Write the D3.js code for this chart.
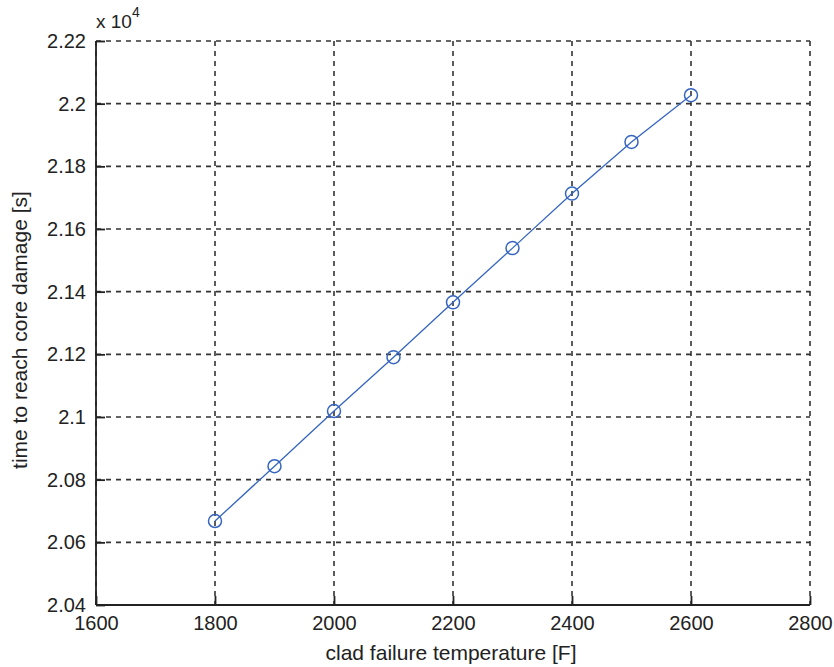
<!DOCTYPE html>
<html>
<head>
<meta charset="utf-8">
<script src="https://cdn.jsdelivr.net/npm/d3@7"></script>
<style>
  body { margin: 0; background: #fff; }
  text { font-family: "Liberation Sans", Arial, sans-serif; fill: #222; }
</style>
</head>
<body>
<script>
// clad failure temperature [F]
const temps = [1800, 1900, 2000, 2100, 2200, 2300, 2400, 2500, 2600];
// time to reach core damage [s]
const times = [20668, 20843, 21019, 21191, 21366, 21539, 21713, 21878, 22027];
const xTicks = [1600, 1800, 2000, 2200, 2400, 2600, 2800];
const yTicks = [2.04, 2.06, 2.08, 2.1, 2.12, 2.14, 2.16, 2.18, 2.2, 2.22];

const width = 834, height = 667;
const margin = {top: 41, right: 24, bottom: 62, left: 96};

const svg = d3.select("body").append("svg")
    .attr("width", width)
    .attr("height", height);

const xscale = d3.scaleLinear()
    .domain([1600, 2800])
    .range([margin.left, width - margin.right]);

const yscale = d3.scaleLinear()
    .domain([2.04, 2.22])
    .range([height - margin.bottom, margin.top]);

// grid
svg.append("g").selectAll("line")
    .data(xTicks)
    .enter().append("line")
    .attr("x1", d => xscale(d)).attr("x2", d => xscale(d))
    .attr("y1", margin.top).attr("y2", height - margin.bottom)
    .attr("stroke", "#333").attr("stroke-width", 1.6)
    .attr("stroke-dasharray", "5,5");

svg.append("g").selectAll("line")
    .data(yTicks)
    .enter().append("line")
    .attr("y1", d => yscale(d)).attr("y2", d => yscale(d))
    .attr("x1", margin.left).attr("x2", width - margin.right)
    .attr("stroke", "#333").attr("stroke-width", 1.6)
    .attr("stroke-dasharray", "5,5");

// axes
const xaxis = d3.axisBottom(xscale).tickValues(xTicks).tickSize(-9).tickPadding(11)
    .tickFormat(d3.format("d"));
const yaxis = d3.axisLeft(yscale).tickValues(yTicks).tickSize(-9).tickPadding(10)
    .tickFormat(d => +d.toFixed(2) + "");

const gx = svg.append("g")
    .attr("transform", `translate(0, ${height - margin.bottom})`)
    .call(xaxis);
const gy = svg.append("g")
    .attr("transform", `translate(${margin.left}, 0)`)
    .call(yaxis);

[gx, gy].forEach(g => {
    g.select(".domain").attr("stroke", "#222").attr("stroke-width", 1.8);
    g.selectAll(".tick line").attr("stroke", "#222").attr("stroke-width", 1.8);
    g.selectAll("text").style("font-size", "20px").attr("fill", "#222");
});
gx.select(".domain").attr("d", `M${margin.left},0H${width - margin.right}`);
gy.select(".domain").attr("d", `M0,${height - margin.bottom}V${margin.top}`);

// exponent label
const expo = svg.append("text")
    .attr("x", margin.left)
    .attr("y", 28)
    .style("font-size", "19px");
expo.append("tspan").text("x 10");
expo.append("tspan").attr("dy", -11).style("font-size", "14px").text("4");

// axis titles
svg.append("text")
    .attr("x", 451)
    .attr("y", 660)
    .attr("text-anchor", "middle")
    .style("font-size", "21px")
    .text("clad failure temperature [F]");

svg.append("text")
    .attr("transform", "translate(27, 330) rotate(-90)")
    .attr("text-anchor", "middle")
    .style("font-size", "21px")
    .text("time to reach core damage [s]");

// line and markers
const data = temps.map((t, i) => ({t: t, v: times[i] / 1e4}));
const color = "#3565c0";

svg.append("path")
    .datum(data)
    .attr("fill", "none")
    .attr("stroke", color)
    .attr("stroke-width", 1.3)
    .attr("d", d3.line().x(d => xscale(d.t)).y(d => yscale(d.v)));

svg.selectAll("circle.pt")
    .data(data)
    .enter().append("circle")
    .attr("class", "pt")
    .attr("cx", d => xscale(d.t))
    .attr("cy", d => yscale(d.v))
    .attr("r", 6.5)
    .attr("fill", "none")
    .attr("stroke", color)
    .attr("stroke-width", 1.5);
</script>
</body>
</html>
